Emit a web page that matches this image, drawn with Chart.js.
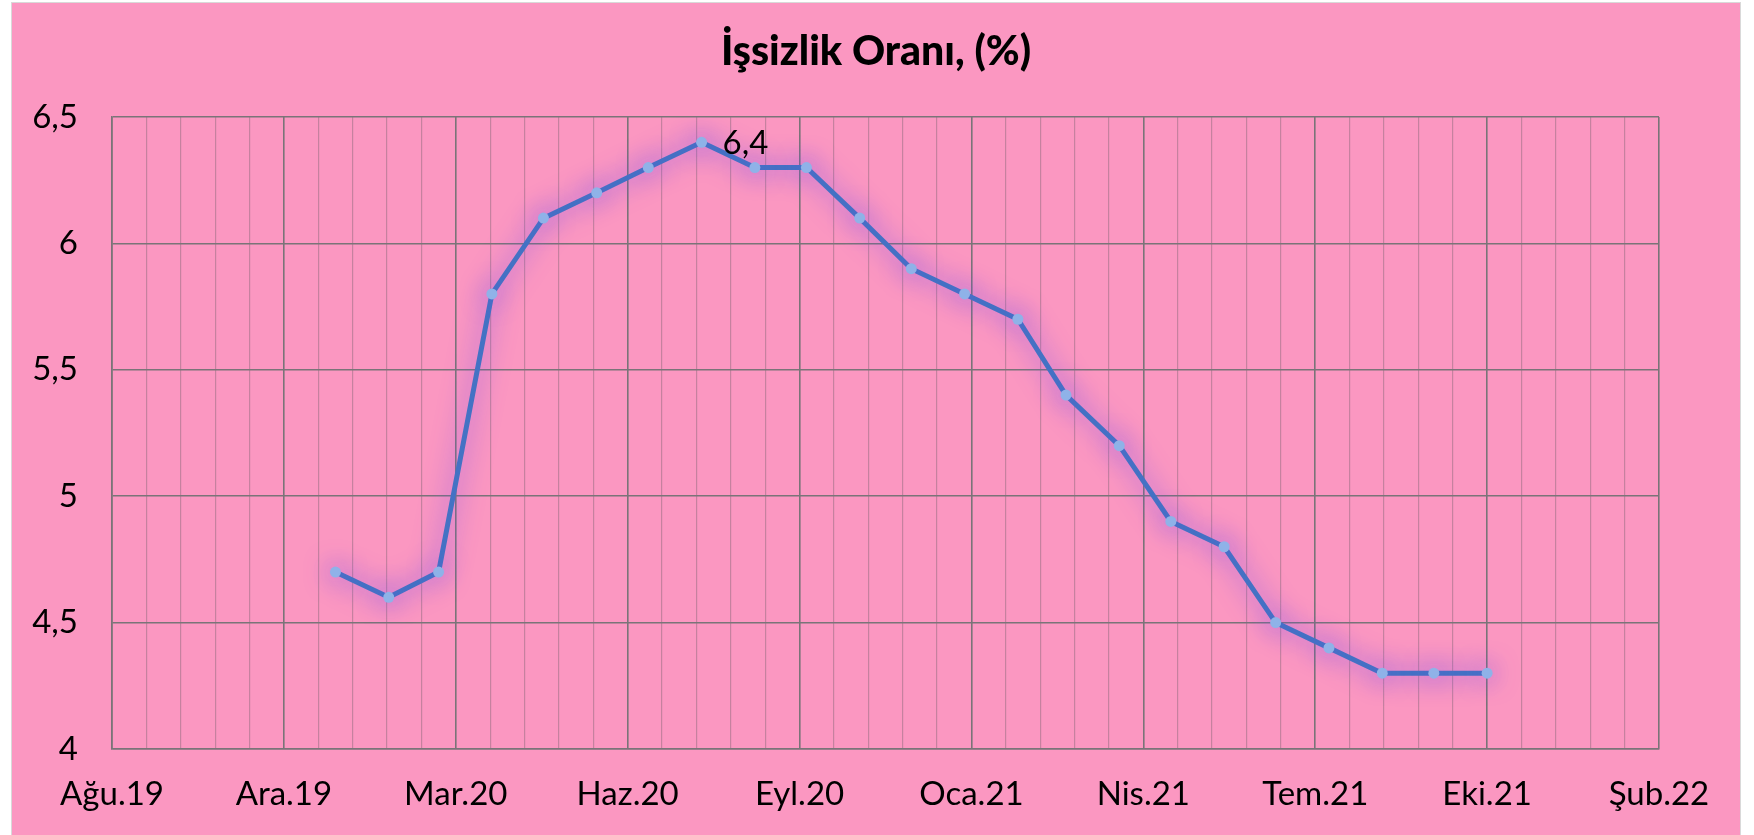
<!DOCTYPE html>
<html lang="tr">
<head>
<meta charset="utf-8">
<title>İşsizlik Oranı</title>
<script src="https://cdn.jsdelivr.net/npm/chart.js@4.4.1/dist/chart.umd.min.js"></script>
<style>
    html, body { margin: 0; padding: 0; background: #fff; overflow: hidden; }
    #wrap {
        position: absolute; left: 11px; top: 2px;
        width: 1728px; height: 834px;
        background: #fb97c1;
        border: 1px solid #d9d9d9;
    }
</style>
</head>
<body>
<div id="wrap"><canvas id="chart"></canvas></div>
<script>
// monthly observations (end of month on a date axis)
const months = [
    '2019-12', '2020-01', '2020-02', '2020-03', '2020-04', '2020-05', '2020-06',
    '2020-07', '2020-08', '2020-09', '2020-10', '2020-11', '2020-12', '2021-01',
    '2021-02', '2021-03', '2021-04', '2021-05', '2021-06', '2021-07', '2021-08',
    '2021-09', '2021-10'
];
const rates = [
    4.7, 4.6, 4.7, 5.8, 6.1, 6.2, 6.3,
    6.4, 6.3, 6.3, 6.1, 5.9, 5.8, 5.7,
    5.4, 5.2, 4.9, 4.8, 4.5, 4.4, 4.3,
    4.3, 4.3
];
// date axis: starts 2019-08-23, major unit 100 days, minor 20 days
const axisStart = '2019-08-23';
const xTickLabels = ['Ağu.19', 'Ara.19', 'Mar.20', 'Haz.20', 'Eyl.20', 'Oca.21', 'Nis.21', 'Tem.21', 'Eki.21', 'Şub.22'];
const yTicks = [4, 4.5, 5, 5.5, 6, 6.5];

const DAY = 86400000;
const startMs = Date.parse(axisStart + 'T00:00:00Z');
const points = months.map((m, i) => {
    const [y, mo] = m.split('-').map(Number);
    const endOfMonth = Date.UTC(y, mo, 0);
    return { x: Math.round((endOfMonth - startMs) / DAY), y: rates[i] };
});

const FONT = 'Lato';
const majorGrid = '#7a7478';
const minorGrid = 'rgba(125, 100, 112, 0.42)';

const titlePlugin = {
    id: 'titleText',
    afterDraw(chart) {
        const ctx = chart.ctx;
        ctx.save();
        ctx.font = `900 41px ${FONT}`;
        ctx.fillStyle = '#000';
        ctx.textAlign = 'center';
        ctx.textBaseline = 'middle';
        ctx.fillText('İşsizlik Oranı, (%)', chart.width / 2, 49);
        ctx.restore();
    }
};

// soft purple halo under line and markers
const glowPlugin = {
    id: 'glow',
    beforeDatasetDraw(chart) {
        const ctx = chart.ctx;
        ctx.save();
        ctx.shadowColor = 'rgba(115, 75, 240, 0.95)';
        ctx.shadowBlur = 26;
    },
    afterDatasetDraw(chart) {
        chart.ctx.restore();
    }
};

const peakLabel = {
    id: 'peakLabel',
    afterDatasetsDraw(chart) {
        const meta = chart.getDatasetMeta(0);
        const i = rates.indexOf(Math.max(...rates));
        const pt = meta.data[i];
        const ctx = chart.ctx;
        ctx.save();
        ctx.font = `33px ${FONT}`;
        ctx.fillStyle = '#000';
        ctx.textAlign = 'left';
        ctx.textBaseline = 'middle';
        ctx.fillText(String(rates[i]).replace('.', ','), pt.x + 21, pt.y + 1);
        ctx.restore();
    }
};

new Chart(document.getElementById('chart'), {
    type: 'line',
    data: {
        datasets: [{
            label: 'İşsizlik Oranı',
            data: points,
            borderColor: '#4472c4',
            borderWidth: 5,
            pointRadius: 5.5,
            pointBackgroundColor: '#8fb2e8',
            pointBorderColor: '#8fb2e8',
            pointBorderWidth: 0,
            tension: 0
        }]
    },
    options: {
        responsive: true,
        maintainAspectRatio: false,
        animation: false,
        layout: { padding: { left: 0, right: 81, top: 114, bottom: 0 } },
        plugins: {
            legend: { display: false },
            tooltip: { enabled: false }
        },
        scales: {
            x: {
                type: 'linear',
                min: 0,
                max: 900,
                afterFit: s => { s.height = 88; },
                ticks: {
                    stepSize: 20,
                    autoSkip: false,
                    maxRotation: 0,
                    padding: 26,
                    color: '#000',
                    font: { family: FONT, size: 33 },
                    callback: v => (v % 100 === 0 ? xTickLabels[v / 100] : '')
                },
                grid: {
                    drawTicks: false,
                    color: c => (c.tick && c.tick.value % 100 === 0 ? majorGrid : minorGrid),
                    lineWidth: c => (c.tick && c.tick.value % 100 === 0 ? 1.6 : 1.2)
                },
                border: { display: true, color: majorGrid, width: 1.6 }
            },
            y: {
                min: yTicks[0],
                max: yTicks[yTicks.length - 1],
                afterFit: s => { s.width = 100; },
                afterBuildTicks: s => { s.ticks = yTicks.map(v => ({ value: v })); },
                ticks: {
                    padding: 34,
                    color: '#000',
                    font: { family: FONT, size: 33 },
                    callback: v => String(v).replace('.', ',')
                },
                grid: { drawTicks: false, color: majorGrid, lineWidth: 1.6 },
                border: { display: true, color: majorGrid, width: 1.6 }
            }
        }
    },
    plugins: [titlePlugin, glowPlugin, peakLabel]
});
</script>
</body>
</html>
